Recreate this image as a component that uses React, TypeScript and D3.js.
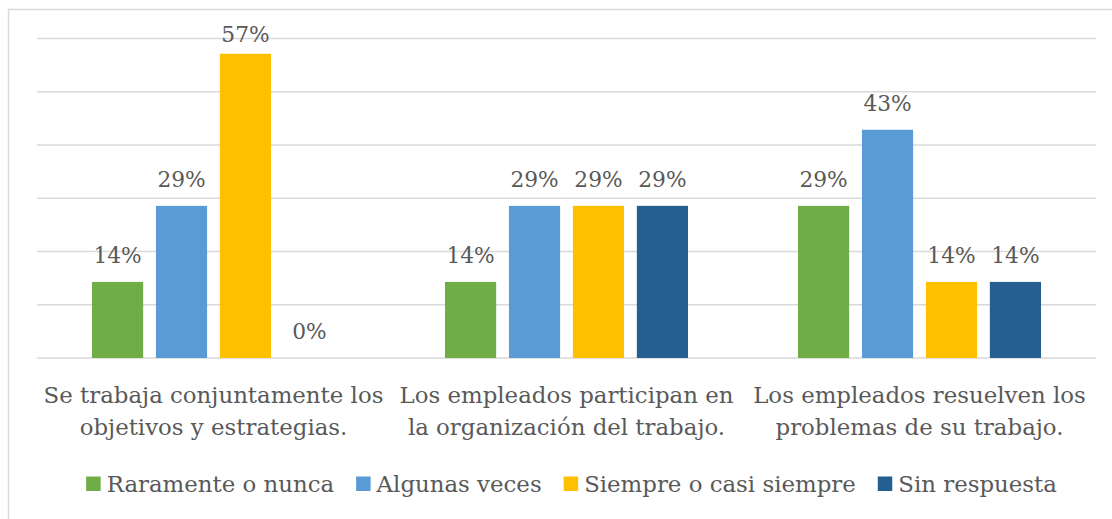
import React from "react";
import * as d3 from "d3";

const categories: string[][] = [
  ["Se trabaja conjuntamente los", "objetivos y estrategias."],
  ["Los empleados participan en", "la organización del trabajo."],
  ["Los empleados resuelven los", "problemas de su trabajo."],
];
const seriesNames = ["Raramente o nunca", "Algunas veces", "Siempre o casi siempre", "Sin respuesta"];
const seriesColors = ["#70AD47", "#5B9BD5", "#FFC000", "#255E91"];
const raramente = [14.29, 14.29, 28.57];
const algunas = [28.57, 28.57, 42.86];
const siempre = [57.14, 28.57, 14.29];
const sinRespuesta = [0, 28.57, 14.29];
const yTicks = [0, 10, 20, 30, 40, 50, 60];

const seriesValues = [raramente, algunas, siempre, sinRespuesta];

const W = 1112;
const H = 519;
const plot = { left: 37, right: 1096, top: 38.5, bottom: 358 };
const FONT = "\"DejaVu Serif\", \"Noto Serif\", serif";
const TEXT = "#595959";

function measure(text: string, size: number): number {
  if (typeof document === "undefined") return text.length * size * 0.45;
  const c = document.createElement("canvas");
  const ctx = c.getContext("2d");
  if (!ctx) return text.length * size * 0.45;
  ctx.font = `${size}px ${FONT}`;
  return ctx.measureText(text).width;
}

export default function App() {
  const x0 = d3
    .scaleBand<number>()
    .domain(categories.map((_, i) => i))
    .range([plot.left, plot.right])
    .paddingInner(0)
    .paddingOuter(0);
  const groupW = 243;
  const x1 = d3
    .scaleBand<number>()
    .domain(seriesNames.map((_, i) => i))
    .range([(x0.bandwidth() - groupW) / 2, (x0.bandwidth() + groupW) / 2])
    .paddingInner(0.2)
    .paddingOuter(0);
  const y = d3.scaleLinear().domain([0, 60]).range([plot.bottom, plot.top]);

  // fit category text to the band width
  const catSize = 29;
  const maxCat = d3.max(categories.flat(), (s) => measure(s, catSize)) || 1;
  const catFont = Math.min(catSize, (catSize * 340) / maxCat);

  const sq = 14.5;
  const sqGap = 6;
  const itemGap = 22;
  let legendSize = 29;
  let widths = seriesNames.map((s) => measure(s, legendSize));
  let total = widths.reduce((a, w) => a + sq + sqGap + w, 0) + itemGap * (seriesNames.length - 1);
  if (total > 971) {
    legendSize = legendSize * (971 - 3 * itemGap - 4 * (sq + sqGap)) / (total - 3 * itemGap - 4 * (sq + sqGap));
    widths = seriesNames.map((s) => measure(s, legendSize));
    total = widths.reduce((a, w) => a + sq + sqGap + w, 0) + itemGap * (seriesNames.length - 1);
  }
  let cursor = 571.5 - total / 2;
  const legendItems = seriesNames.map((s, i) => {
    const item = { x: cursor, w: widths[i], name: s, color: seriesColors[i] };
    cursor += sq + sqGap + widths[i] + itemGap;
    return item;
  });

  return (
    <svg
      width={W}
      height={H}
      style={{ position: "absolute", left: 0, top: 0, background: "#fff", fontFamily: FONT }}
    >
      <rect x={8.5} y={9.5} width={1200} height={600} fill="#fff" stroke="#D9D9D9" strokeWidth={1.5} />
      {yTicks.map((t) => (
        <line
          key={t}
          x1={plot.left}
          x2={plot.right}
          y1={y(t)}
          y2={y(t)}
          stroke="#D9D9D9"
          strokeWidth={1.5}
        />
      ))}
      {categories.map((cat, ci) => (
        <g key={ci} transform={`translate(${x0(ci)},0)`}>
          {seriesValues.map((vals, si) => {
            const v = vals[ci];
            const bx = x1(si)!;
            const top = y(v);
            const labelY = Math.max(top - 19, 42);
            return (
              <g key={si}>
                {v > 0 && (
                  <rect x={bx} y={top} width={x1.bandwidth()} height={y(0) - top} fill={seriesColors[si]} />
                )}
                <text
                  x={bx + x1.bandwidth() / 2}
                  y={labelY}
                  textAnchor="middle"
                  fontSize={catFont * 0.95}
                  fill={TEXT}
                >
                  {`${Math.round(v)}%`}
                </text>
              </g>
            );
          })}
          {cat.map((line, li) => (
            <text
              key={li}
              x={x0.bandwidth() / 2}
              y={403 + li * 32}
              textAnchor="middle"
              fontSize={catFont}
              fill={TEXT}
            >
              {line}
            </text>
          ))}
        </g>
      ))}
      {legendItems.map((it) => (
        <g key={it.name}>
          <rect x={it.x} y={476.5} width={sq} height={sq} fill={it.color} />
          <text x={it.x + sq + sqGap} y={492} fontSize={legendSize} fill={TEXT}>
            {it.name}
          </text>
        </g>
      ))}
    </svg>
  );
}
